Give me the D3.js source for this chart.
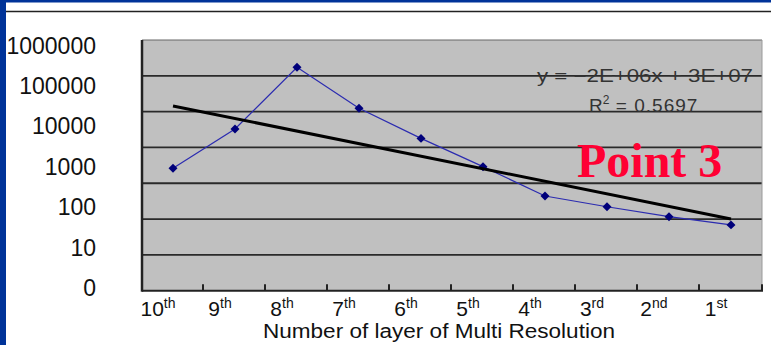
<!DOCTYPE html>
<html>
<head>
<meta charset="utf-8">
<script src="https://cdn.jsdelivr.net/npm/d3@7"></script>
<style>
  body { margin: 0; background: #fff; }
  svg { display: block; font-family: "Liberation Sans", Arial, sans-serif; }
</style>
</head>
<body>
<svg id="chart" width="771" height="345"></svg>
<script>
// layers (log axis)
const categories = ["10th", "9th", "8th", "7th", "6th", "5th", "4th", "3rd", "2nd", "1st"];
const catNumber = ["10", "9", "8", "7", "6", "5", "4", "3", "2", "1"];
const catSuffix = ["th", "th", "th", "th", "th", "th", "th", "rd", "nd", "st"];
const values = [930, 8700, 292000, 28300, 5100, 1020, 192, 104, 59, 37];

// trend line end points
const trendCats = ["10th", "1st"];
const trendValues = [32300, 52];

const yTickValues = [1, 10, 100, 1000, 10000, 100000, 1000000];
const yTickLabels = ["0", "10", "100", "1000", "10000", "100000", "1000000"];

const W = 771, H = 345;
const plot = {left: 142, right: 762, top: 40, bottom: 290.7};

const svg = d3.select("#chart");

// slide frame
svg.append("rect").attr("x", 0).attr("y", 0).attr("width", W).attr("height", H).attr("fill", "#fff");
svg.append("rect").attr("x", 0).attr("y", 0).attr("width", W).attr("height", 2.5).attr("fill", "#003399");
svg.append("rect").attr("x", 0).attr("y", 0).attr("width", 6).attr("height", H).attr("fill", "#003399");
svg.append("line")
    .attr("x1", 6).attr("x2", W).attr("y1", 11.5).attr("y2", 11.5)
    .attr("stroke", "#222").attr("stroke-width", 1.5);

const x = d3.scaleBand()
    .domain(categories)
    .range([plot.left, plot.right]);

const y = d3.scaleLog()
    .domain([1, 1000000])
    .range([288.3, 45.7]);

// gridlines are evenly spaced bands in the plot box
const grid = d3.scaleLinear()
    .domain([0, 7])
    .range([plot.bottom, plot.top]);

svg.append("rect")
    .attr("x", plot.left).attr("y", plot.top)
    .attr("width", plot.right - plot.left).attr("height", plot.bottom - plot.top)
    .attr("fill", "#c0c0c0");

svg.append("g")
    .selectAll("line")
    .data(d3.range(1, 7))
    .join("line")
    .attr("x1", plot.left).attr("x2", plot.right)
    .attr("y1", (d) => grid(d)).attr("y2", (d) => grid(d))
    .attr("stroke", "#2a2a2a")
    .attr("stroke-width", 1.8);

// frame edges
svg.append("line").attr("x1", plot.left).attr("x2", plot.right).attr("y1", plot.top).attr("y2", plot.top)
    .attr("stroke", "#666").attr("stroke-width", 1);
svg.append("line").attr("x1", plot.right).attr("x2", plot.right).attr("y1", plot.top).attr("y2", plot.bottom)
    .attr("stroke", "#9a9a9a").attr("stroke-width", 1);

// x axis: ticks on band boundaries
const xAxis = svg.append("g");
xAxis.append("line")
    .attr("x1", plot.left).attr("x2", plot.right + 1)
    .attr("y1", plot.bottom).attr("y2", plot.bottom)
    .attr("stroke", "#222").attr("stroke-width", 2);
xAxis.selectAll("line.tick")
    .data(categories.slice(1).concat(["end"]))
    .join("line")
    .attr("class", "tick")
    .attr("x1", (d) => d === "end" ? plot.right : x(d) - 1)
    .attr("x2", (d) => d === "end" ? plot.right : x(d) - 1)
    .attr("y1", plot.bottom).attr("y2", plot.bottom - 6.5)
    .attr("stroke", "#222").attr("stroke-width", 2);

const xLabels = xAxis.selectAll("text.lab")
    .data(categories)
    .join("text")
    .attr("class", "lab")
    .attr("x", (d) => x(d) + 16)
    .attr("y", 315.5)
    .attr("text-anchor", "middle")
    .attr("fill", "#111");
xLabels.append("tspan")
    .style("font-size", "21px")
    .text((d, i) => catNumber[i]);
xLabels.append("tspan")
    .style("font-size", "14px")
    .attr("dy", -8)
    .text((d, i) => catSuffix[i]);

// left axis line
svg.append("line").attr("x1", plot.left).attr("x2", plot.left).attr("y1", plot.top).attr("y2", plot.bottom + 1)
    .attr("stroke", "#222").attr("stroke-width", 2.5);

// y axis labels
const yAxis = svg.append("g")
    .attr("transform", "translate(96,0)")
    .call(d3.axisLeft(y)
        .tickValues(yTickValues)
        .tickSize(0)
        .tickPadding(0)
        .tickFormat((d, i) => yTickLabels[i]));
yAxis.select(".domain").remove();
yAxis.selectAll("text")
    .style("font-size", "23px")
    .style("font-family", "Liberation Sans, Arial, sans-serif")
    .attr("fill", "#111");

// series
const line = d3.line()
    .x((d, i) => x(categories[i]) + x.bandwidth() / 2)
    .y((d) => y(d));

svg.append("path")
    .datum(values)
    .attr("d", line)
    .attr("fill", "none")
    .attr("stroke", "#2b2bb0")
    .attr("stroke-width", 1.2);

svg.append("g")
    .selectAll("path")
    .data(values)
    .join("path")
    .attr("d", d3.symbol(d3.symbolSquare, 40))
    .attr("transform", (d, i) => `translate(${x(categories[i]) + x.bandwidth() / 2},${y(d)}) rotate(45)`)
    .attr("fill", "#00007a");

// trend line
svg.append("path")
    .datum(trendValues)
    .attr("d", d3.line()
        .x((d, i) => x(trendCats[i]) + x.bandwidth() / 2)
        .y((d) => y(d)))
    .attr("fill", "none")
    .attr("stroke", "#000")
    .attr("stroke-width", 3);

// equation
svg.append("text")
    .attr("x", 537).attr("y", 82)
    .style("font-size", "18px")
    .attr("fill", "#333")
    .attr("textLength", 216)
    .attr("lengthAdjust", "spacingAndGlyphs")
    .text("y = −2E+06x + 3E+07");

const r2 = svg.append("text")
    .attr("x", 589).attr("y", 111.5)
    .style("font-size", "19px")
    .attr("fill", "#333");
r2.append("tspan").text("R");
r2.append("tspan").style("font-size", "12px").attr("dy", -8).text("2");
r2.append("tspan").attr("dy", 8).attr("textLength", 88).attr("lengthAdjust", "spacing").text(" =  0.5697");

svg.append("text")
    .attr("x", 577).attr("y", 176.5)
    .style("font-family", "'Liberation Serif', 'Times New Roman', serif")
    .style("font-weight", "bold")
    .style("font-size", "48px")
    .attr("fill", "#ff0033")
    .text("Point 3");

// axis title
svg.append("text")
    .attr("x", 263).attr("y", 338)
    .style("font-size", "20px")
    .attr("fill", "#111")
    .attr("textLength", 352)
    .attr("lengthAdjust", "spacingAndGlyphs")
    .text("Number of layer of Multi Resolution");
</script>
</body>
</html>
